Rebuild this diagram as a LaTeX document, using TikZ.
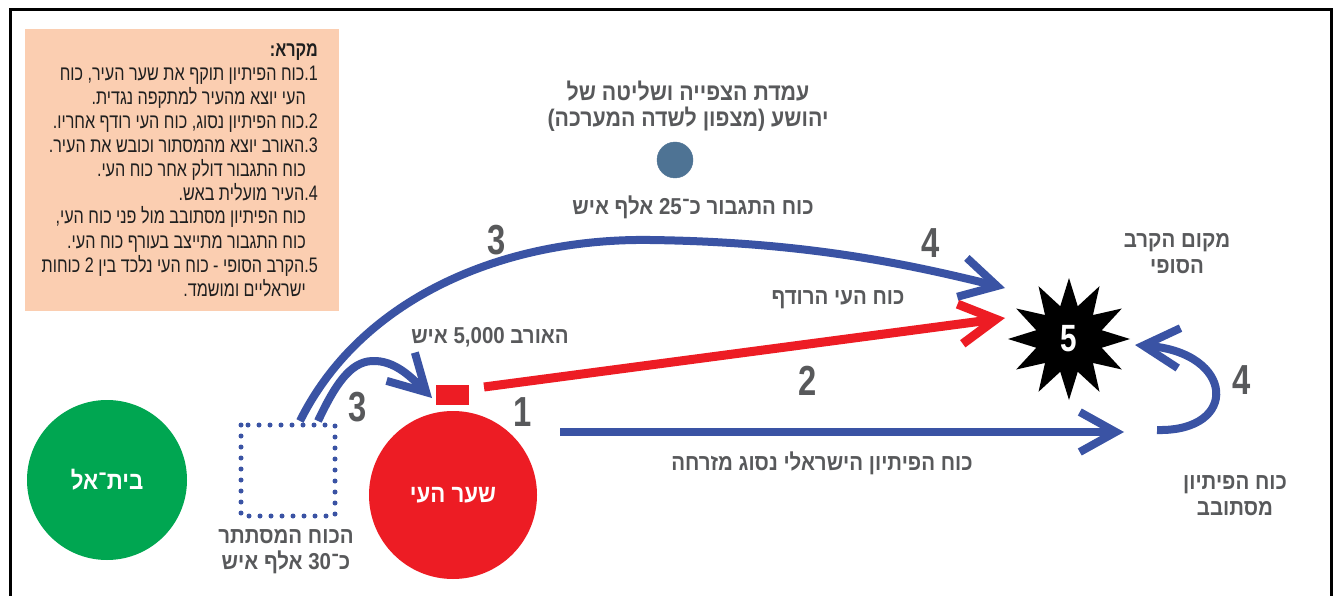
\documentclass[tikz,border=0pt]{standalone}
\usepackage{fontspec}
\usetikzlibrary{arrows.meta,shapes.geometric}
\TeXXeTstate=1
\newfontfamily\heb[Script=Hebrew,FakeStretch=0.89]{Liberation Sans}
\newfontfamily\hebleg[Script=Hebrew,FakeStretch=0.77]{Liberation Sans}
\newfontfamily\hebnum[FakeStretch=0.78]{Liberation Sans}
\newcommand\numL[1]{\beginL#1\endL}
\newcommand\rtl[1]{\beginR#1\endR}
\definecolor{blu}{HTML}{3A53A4}
\definecolor{rd}{HTML}{ED1C24}
\definecolor{grn}{HTML}{00A651}
\definecolor{peach}{HTML}{FBCEB1}
\definecolor{gtx}{HTML}{58595B}
\definecolor{dotc}{HTML}{4E7394}
\begin{document}
\begin{tikzpicture}[x=1pt,y=-1pt,
  lbl/.style={text=gtx,font=\heb\bfseries\fontsize{23}{26}\selectfont,inner sep=0pt,align=center},
  numlbl/.style={text=gtx,font=\hebnum\bfseries\fontsize{42}{42}\selectfont,inner sep=0pt},
  legl/.style={font=\hebleg\fontsize{21}{24}\selectfont,text=black!88,inner sep=0pt,anchor=base east},
  arr/.style={line width=8pt,-{Straight Barb[length=36pt,width=40pt]}},
  ]
\useasboundingbox (0,0) rectangle (1341,596);
\fill[white] (0,0) rectangle (1341,596);
\draw[line width=3pt] (10,600) -- (10,10) -- (1331,10) -- (1331,600);

% legend
\fill[peach] (25,29) rectangle (339,311);
\node[legl,font=\hebleg\bfseries\fontsize{21}{24}\selectfont] (l0) at (318,57) {\rtl{מקרא:}};
\node[legl] (l1) at (318,81) {\rtl{1.כוח הפיתיון תוקף את שער העיר, כוח}};
\node[legl] (l2) at (306,105) {\rtl{העי יוצא מהעיר למתקפה נגדית.}};
\node[legl] (l3) at (318,129) {\rtl{2.כוח הפיתיון נסוג, כוח העי רודף אחריו.}};
\node[legl] (l4) at (318,153) {\rtl{3.האורב יוצא מהמסתור וכובש את העיר.}};
\node[legl] (l5) at (306,177) {\rtl{כוח התגבור דולק אחר כוח העי.}};
\node[legl] (l6) at (318,201) {\rtl{4.העיר מועלית באש.}};
\node[legl] (l7) at (306,224) {\rtl{כוח הפיתיון מסתובב מול פני כוח העי,}};
\node[legl] (l8) at (306,248) {\rtl{כוח התגבור מתייצב בעורף כוח העי.}};
\node[legl] (l9) at (318,272) {\rtl{5.הקרב הסופי - כוח העי נלכד בין \numL{2} כוחות}};
\node[legl] (l10) at (306,296) {\rtl{ישראליים ומושמד.}};

% places
\node[circle,fill=grn,minimum size=160pt,inner sep=0pt,text=white,font=\heb\bfseries\fontsize{25}{25}\selectfont] (betel) at (107,480) {\rtl{בית־אל}};
\node[circle,fill=rd,minimum size=168pt,inner sep=0pt,text=white,font=\heb\bfseries\fontsize{25}{25}\selectfont] (ai) at (453,495) {\rtl{שער העי}};
\node[fill=rd,minimum width=33pt,minimum height=20pt,inner sep=0pt] (gate) at (452.5,395) {};
\draw[dotc,fill=dotc] (675,160) circle (18) node (obs) {};
\draw[blu,line width=5pt,line cap=round,dash pattern=on 0pt off 11pt] (241,425) rectangle (335,516);
\node[star,star points=12,star point ratio=1.8,fill=black,minimum size=122pt,inner sep=0pt,text=white,font=\hebnum\bfseries\fontsize{38}{38}\selectfont] (star) at (1069,339) {5};

% connector ends
\coordinate (sqA) at (300,421);
\coordinate (sqB) at (318,421);
\coordinate (tipA) at (1005,288);
\coordinate (smB) at (432,398);
\coordinate (redA) at (484,387);
\coordinate (redB) at (1005,318);
\coordinate (blA) at (560,432);
\coordinate (blB) at (1124,432);
\coordinate (lpA) at (1157,430);
\coordinate (lpB) at (1135,345);

\draw[arr,blu] (sqA) .. controls (360,300) and (500,238) .. (650,240) .. controls (800,242) and (900,262) .. (tipA);
\draw[arr,blu] (sqB) .. controls (335,385) and (350,362) .. (372,361) .. controls (395,360) and (412,378) .. (smB);
\draw[arr,rd,line width=9pt] (redA) -- (redB);
\draw[arr,blu] (blA) -- (blB);
\draw[arr,blu] (lpA) .. controls (1240,432) and (1235,352) .. (lpB);

% numbers
\node[numlbl] (n3a) at (497,240) {3};
\node[numlbl] (n4a) at (931,243) {4};
\node[numlbl] (n3b) at (358,407) {3};
\node[numlbl] (n1) at (523,412) {1};
\node[numlbl] (n2) at (808,381) {2};
\node[numlbl] (n4b) at (1242,380) {4};

% labels
\node[lbl,font=\heb\bfseries\fontsize{24}{26}\selectfont] (t1) at (688,106) {\rtl{עמדת הצפייה ושליטה של}\\\rtl{יהושע (מצפון לשדה המערכה)}};
\node[lbl] (t2) at (693,207) {\rtl{כוח התגבור כ־\numL{25} אלף איש}};
\node[lbl] (t3) at (1177,254) {\rtl{מקום הקרב}\\\rtl{הסופי}};
\node[lbl] (t4) at (838,300) {\rtl{כוח העי הרודף}};
\node[lbl] (t5) at (490,337) {\rtl{האורב \numL{5,000} איש}};
\node[lbl] (t6) at (822,463) {\rtl{כוח הפיתיון הישראלי נסוג מזרחה}};
\node[lbl] (t7) at (1235,496) {\rtl{כוח הפיתיון}\\\rtl{מסתובב}};
\node[lbl] (t8) at (286,552) {\rtl{הכוח המסתתר}\\\rtl{כ־\numL{30} אלף איש}};
\end{tikzpicture}
\end{document}
